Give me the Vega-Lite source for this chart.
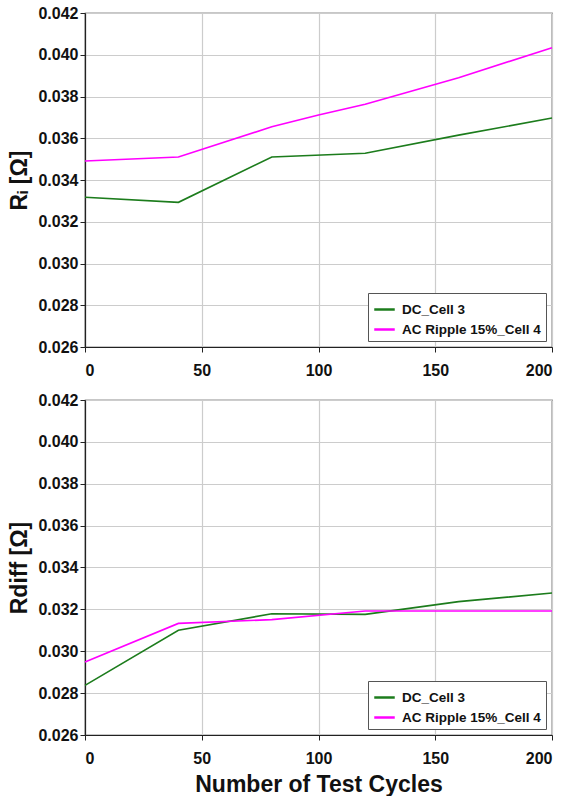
{
  "$schema": "https://vega.github.io/schema/vega-lite/v6.json",
  "background": "white",
  "padding": {"left": 8, "top": 4, "right": 2, "bottom": 2},
  "spacing": 12,
  "config": {
    "font": "Liberation Sans",
    "view": {"stroke": "#222222", "strokeWidth": 1.2},
    "axis": {
      "labelFont": "Liberation Sans", "labelFontWeight": "bold", "labelFontSize": 16, "labelColor": "#111111",
      "titleFont": "Liberation Sans", "titleFontWeight": "bold", "titleFontSize": 23, "titleColor": "#111111",
      "gridColor": "#cccccc", "gridWidth": 1.2, "domainColor": "#222222", "domainWidth": 1.2,
      "tickColor": "#222222", "tickSize": 5
    },
    "legend": {
      "labelFont": "Liberation Sans", "labelFontWeight": "bold", "labelFontSize": 13.5, "labelColor": "#111111",
      "strokeColor": "#555555", "fillColor": "white", "padding": 5, "symbolType": "stroke",
      "symbolStrokeWidth": 2.5, "symbolSize": 420, "rowPadding": 2, "labelOffset": 6, "orient": "bottom-right", "offset": 6
    }
  },
  "data": {"values": [
    {"panel": "Ri", "series": "DC_Cell 3", "cycle": 0, "value": 0.03317},
    {"panel": "Ri", "series": "DC_Cell 3", "cycle": 40, "value": 0.03293},
    {"panel": "Ri", "series": "DC_Cell 3", "cycle": 80, "value": 0.03510},
    {"panel": "Ri", "series": "DC_Cell 3", "cycle": 120, "value": 0.03528},
    {"panel": "Ri", "series": "DC_Cell 3", "cycle": 160, "value": 0.03615},
    {"panel": "Ri", "series": "DC_Cell 3", "cycle": 200, "value": 0.03697},
    {"panel": "Ri", "series": "AC Ripple 15%_Cell 4", "cycle": 0, "value": 0.03491},
    {"panel": "Ri", "series": "AC Ripple 15%_Cell 4", "cycle": 40, "value": 0.03510},
    {"panel": "Ri", "series": "AC Ripple 15%_Cell 4", "cycle": 80, "value": 0.03655},
    {"panel": "Ri", "series": "AC Ripple 15%_Cell 4", "cycle": 100, "value": 0.03711},
    {"panel": "Ri", "series": "AC Ripple 15%_Cell 4", "cycle": 120, "value": 0.03763},
    {"panel": "Ri", "series": "AC Ripple 15%_Cell 4", "cycle": 160, "value": 0.03890},
    {"panel": "Ri", "series": "AC Ripple 15%_Cell 4", "cycle": 200, "value": 0.04034},
    {"panel": "Rdiff", "series": "DC_Cell 3", "cycle": 0, "value": 0.02837},
    {"panel": "Rdiff", "series": "DC_Cell 3", "cycle": 40, "value": 0.03100},
    {"panel": "Rdiff", "series": "DC_Cell 3", "cycle": 80, "value": 0.03179},
    {"panel": "Rdiff", "series": "DC_Cell 3", "cycle": 120, "value": 0.03176},
    {"panel": "Rdiff", "series": "DC_Cell 3", "cycle": 160, "value": 0.03237},
    {"panel": "Rdiff", "series": "DC_Cell 3", "cycle": 200, "value": 0.03278},
    {"panel": "Rdiff", "series": "AC Ripple 15%_Cell 4", "cycle": 0, "value": 0.02949},
    {"panel": "Rdiff", "series": "AC Ripple 15%_Cell 4", "cycle": 40, "value": 0.03133},
    {"panel": "Rdiff", "series": "AC Ripple 15%_Cell 4", "cycle": 80, "value": 0.03151},
    {"panel": "Rdiff", "series": "AC Ripple 15%_Cell 4", "cycle": 120, "value": 0.03192},
    {"panel": "Rdiff", "series": "AC Ripple 15%_Cell 4", "cycle": 160, "value": 0.03192},
    {"panel": "Rdiff", "series": "AC Ripple 15%_Cell 4", "cycle": 200, "value": 0.03192}
  ]},
  "resolve": {"scale": {"color": "independent"}, "legend": {"color": "independent"}},
  "vconcat": [
    {
      "width": 467, "height": 334,
      "transform": [{"filter": "datum.panel === 'Ri'"}],
      "mark": {"type": "line", "strokeWidth": 1.6},
      "encoding": {
        "x": {"field": "cycle", "type": "quantitative", "scale": {"domain": [0, 200], "nice": false},
              "axis": {"values": [0, 50, 100, 150, 200], "title": null, "labelPadding": 10}},
        "y": {"field": "value", "type": "quantitative", "scale": {"domain": [0.026, 0.042], "nice": false, "zero": false},
              "axis": {"values": [0.026, 0.028, 0.03, 0.032, 0.034, 0.036, 0.038, 0.04, 0.042], "format": ".3f", "title": "Rᵢ [Ω]", "titlePadding": 6, "labelPadding": 2}},
        "color": {"field": "series", "type": "nominal",
                  "scale": {"domain": ["DC_Cell 3", "AC Ripple 15%_Cell 4"], "range": ["#1c7c1c", "#ff00ff"]},
                  "legend": {"title": null}}
      }
    },
    {
      "width": 467, "height": 335,
      "transform": [{"filter": "datum.panel === 'Rdiff'"}],
      "mark": {"type": "line", "strokeWidth": 1.6},
      "encoding": {
        "x": {"field": "cycle", "type": "quantitative", "scale": {"domain": [0, 200], "nice": false},
              "axis": {"values": [0, 50, 100, 150, 200], "title": "Number of Test Cycles", "labelPadding": 10, "titlePadding": 7}},
        "y": {"field": "value", "type": "quantitative", "scale": {"domain": [0.026, 0.042], "nice": false, "zero": false},
              "axis": {"values": [0.026, 0.028, 0.03, 0.032, 0.034, 0.036, 0.038, 0.04, 0.042], "format": ".3f", "title": "Rdiff [Ω]", "titlePadding": 6, "labelPadding": 2}},
        "color": {"field": "series", "type": "nominal",
                  "scale": {"domain": ["DC_Cell 3", "AC Ripple 15%_Cell 4"], "range": ["#1c7c1c", "#ff00ff"]},
                  "legend": {"title": null}}
      }
    }
  ]
}
